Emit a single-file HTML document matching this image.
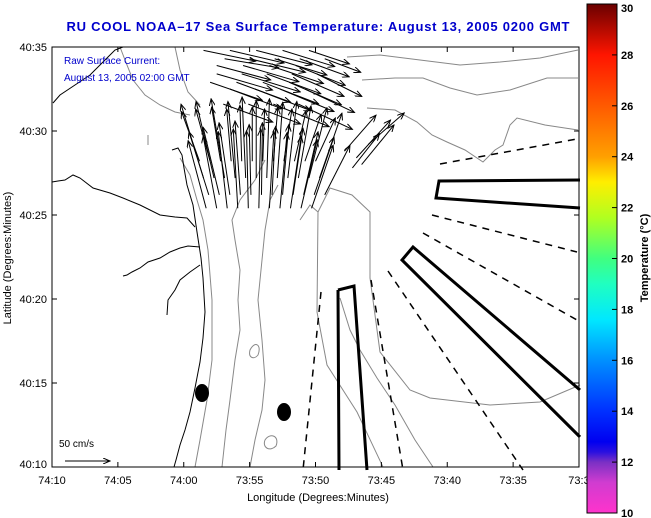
<!DOCTYPE html>
<html><head><meta charset="utf-8"><style>
html,body{margin:0;padding:0;background:#fff;}
svg{display:block;font-family:"Liberation Sans",sans-serif;}
</style></head><body>
<svg id="chart" width="651" height="518" viewBox="0 0 651 518">
<defs>
<linearGradient id="cbar" x1="0" y1="1" x2="0" y2="0">
<stop offset="0" stop-color="#ff33cc"/><stop offset="0.06" stop-color="#d03cd0"/><stop offset="0.1" stop-color="#7a30c4"/><stop offset="0.12" stop-color="#2a10e0"/><stop offset="0.14" stop-color="#0000f0"/><stop offset="0.2" stop-color="#0030ff"/><stop offset="0.3" stop-color="#0090ff"/><stop offset="0.38" stop-color="#00e8ff"/><stop offset="0.45" stop-color="#20ffc0"/><stop offset="0.5" stop-color="#40ff80"/><stop offset="0.58" stop-color="#b0ff20"/><stop offset="0.65" stop-color="#ffee00"/><stop offset="0.7" stop-color="#ffa000"/><stop offset="0.8" stop-color="#ff5a00"/><stop offset="0.9" stop-color="#ff1500"/><stop offset="1" stop-color="#6a0000"/>
</linearGradient>
<marker id="ah" markerWidth="8" markerHeight="6" refX="7" refY="3" orient="auto" markerUnits="userSpaceOnUse"><path d="M0,0 L7,3 L0,6" fill="none" stroke="#000" stroke-width="1"/></marker>
</defs>
<text x="318" y="31" text-anchor="middle" font-size="13" font-weight="bold" fill="#0000cc" textLength="503">RU COOL  NOAA–17  Sea Surface Temperature:  August 13, 2005 0200 GMT</text>
<g fill="none">
<g stroke="#888" stroke-width="1">
<path d="M120,47 L125,60 L133,80 L145,95 L160,105 L175,112 L190,115"/>
<path d="M175,47 L180,70 L188,92 L200,105"/>
<path d="M195,467 L200,440 L207,400 L212,360 L212,300 L208,250 L203,220 L197,200 L190,175 L180,158"/>
<path d="M222,467 L226,430 L230,400 L235,360 L240,330 L238,300 L240,270 L235,240 L232,220 L240,200 L255,180 L265,160"/>
<path d="M250,467 L255,440 L262,410 L265,380 L262,340 L258,300 L262,260 L265,230 L270,200 L278,185"/>
<path d="M347,57 L380,55 L420,60 L460,65 L500,62 L540,58 L578,50"/>
<path d="M362,80 L395,78 L423,78 L450,88 L477,95 L510,90 L547,78 L578,78"/>
<path d="M367,108 L395,110 L417,122 L432,135 L447,142 L465,150 L483,162 L495,150 L503,145 L510,125 L517,118 L545,125 L578,130"/>
<path d="M383,467 L357,412 L327,365 L317,312 L318,212 L330,188 L352,195 L370,212 L370,278 L380,352 L410,390 L430,398 L490,405 L540,402 L580,385"/>
<path d="M340,298 L350,330 L360,350 L377,378 L395,405 L415,440 L433,467"/>
<path d="M300,220 L310,205 L318,212"/>
<path d="M148,135 L148,145"/>
<path d="M250,350 C255,340 262,345 258,355 C254,360 248,358 250,350Z"/>
<path d="M265,440 C270,432 280,436 276,446 C270,452 262,448 265,440Z"/>
</g>
<g stroke="#000" stroke-width="1">
<path d="M53,103 L60,95 L75,85 L90,75 L107,58 L115,50 L123,47"/>
<path d="M172,150 L178,148 L182,155 L184,168 L187,185 L193,205 L197,232 L201,258 L203,278 L205,312 L203,338 L200,362 L195,388 L190,412 L185,430 L180,445 L176,460 L174,467"/>
<path d="M52,182 L58,181 L65,180 L73,175 L80,178 L93,188 L110,193 L123,198 L140,205 L160,215 L175,217 L187,218 L195,227"/>
<path d="M200,247 L188,246 L180,248 L170,252 L160,258 L148,262 L140,268 L132,272 L127,275 L123,276"/>
<path d="M200,265 L190,272 L180,280 L175,290 L168,300 L167,315"/>
</g>
</g>
<g fill="none" stroke="#000">
<path d="M338,290 L354,286 L367,470 M339,470 L338,290" stroke-width="3"/>
<path d="M580,180 L439,181 L436,198 L580,208" stroke-width="3"/>
<path d="M580,390 L413,247 L402,260 L580,437" stroke-width="3"/>
<g stroke-width="1.5" stroke-dasharray="7,6">
<path d="M440,164 L577,139"/><path d="M432,215 L577,252"/><path d="M423,233 L577,320"/>
<path d="M388,271 L523,470"/><path d="M371,280 L403,470"/><path d="M321,292 L303,470"/>
</g>
</g>
<ellipse cx="202" cy="393" rx="7" ry="9" fill="#000"/>
<ellipse cx="284" cy="412" rx="7" ry="9" fill="#000"/>
<g id="arrows"></g>
<text x="64" y="64" font-size="10" fill="#0000cc">Raw Surface Current:</text>
<text x="64" y="81" font-size="10" fill="#0000cc">August 13, 2005 02:00 GMT</text>
<g>
<text x="59" y="447" font-size="10" fill="#000">50 cm/s</text>
<line x1="65" y1="461" x2="110" y2="461" stroke="#000" marker-end="url(#ah)"/>
</g>
<rect x="52" y="47" width="527" height="420" fill="none" stroke="#000" stroke-width="1"/>
<g id="axes" font-size="11" fill="#000"></g>
<text x="318" y="501" text-anchor="middle" font-size="11">Longitude (Degrees:Minutes)</text>
<text transform="translate(11,258) rotate(-90)" text-anchor="middle" font-size="11">Latitude (Degrees:Minutes)</text>
<rect x="587" y="4" width="30" height="509" fill="url(#cbar)" stroke="#000" stroke-width="1"/>
<g id="cbticks" font-size="11" font-weight="bold"></g>
<text transform="translate(648,258) rotate(-90)" text-anchor="middle" font-size="11" font-weight="bold">Temperature (°C)</text>
</svg>
<script>
const lonTicks = ["74:10","74:05","74:00","73:55","73:50","73:45","73:40","73:35","73:3"];
const latTicks = ["40:10","40:15","40:20","40:25","40:30","40:35"];
const tempTicks = [10,12,14,16,18,20,22,24,26,28,30];
// arrow tails: lon minutes (73:xx / 74 = 60+), lat minutes past 40:00; velocities cm/s
const arrowLon = [58.5,57.7,56.9,56.1,55.3,54.5,53.7,52.9,52.1,51.3,50.5,49.7,
 58.1,57.3,56.5,55.7,54.9,54.1,53.3,52.5,51.7,50.9,50.1,49.3,
 58.8,58.0,57.2,56.4,55.6,54.8,54.0,53.2,52.4,51.6,50.8,50.0,
 58.3,57.5,56.7,55.9,55.1,54.3,53.5,52.7,51.9,51.1,50.3,
 56.9,55.0,53.1,51.2,49.3,57.5,55.6,53.7,51.8,49.9,56.5,54.6,52.7,50.8,57.0,55.1,53.2,51.3,
 58.5,56.5,54.5,52.5,50.5,57.5,55.5,53.5,51.5,58.0,56.0,54.0,52.0,
 47.8,46.9,46.0,47.2,46.5];
const arrowLat = [27.2,27.2,27.2,27.2,27.2,27.2,27.2,27.2,27.2,27.2,27.2,27.2,
 26.2,26.2,26.2,26.2,26.2,26.2,26.2,26.2,26.2,26.2,26.2,26.2,
 28.2,28.2,28.2,28.2,28.2,28.2,28.2,28.2,28.2,28.2,28.2,28.2,
 25.4,25.4,25.4,25.4,25.4,25.4,25.4,25.4,25.4,25.4,25.4,
 34.3,34.3,34.3,34.3,34.3,33.4,33.4,33.4,33.4,33.4,32.5,32.5,32.5,32.5,31.6,31.6,31.6,31.6,
 34.8,34.8,34.8,34.8,34.8,33.9,33.9,33.9,33.9,32.9,32.9,32.9,32.9,
 28.8,28.4,29.2,27.8,28.0];
const arrowU = [-25,-20,-15,-8,-4,0,3,6,10,14,20,25,
 -22,-18,-12,-6,-2,1,4,7,11,16,22,28,
 -20,-16,-10,-5,-2,0,2,5,9,13,18,22,
 -20,-15,-10,-5,-2,2,5,8,12,18,24,
 60,62,58,55,40,62,65,60,58,50,58,62,60,55,55,58,62,60,
 58,60,62,58,45,60,62,60,55,58,60,62,58,
 35,38,40,30,36];
const arrowV = [82,85,88,85,90,86,88,84,85,80,78,72,
 70,75,80,82,78,80,76,78,74,70,64,55,
 55,58,60,58,62,60,58,60,58,56,52,48,
 75,80,85,88,86,88,85,84,80,76,70,
 -10,-15,-18,-20,-15,-18,-20,-22,-25,-25,-22,-24,-25,-26,-20,-22,-25,-28,
 -12,-14,-16,-18,-15,-16,-18,-20,-22,-20,-22,-24,-25,
 40,42,35,38,44];
const NS="http://www.w3.org/2000/svg";
const xOf = m => 52 + (70 - m) * 527/40;
const yOf = n => 467 - (n - 10) * 420/25;
const pxPerCm = 0.9;
const g = document.getElementById('arrows');
for (let i=0;i<arrowLon.length;i++){
  const x1=xOf(arrowLon[i]), y1=yOf(arrowLat[i]);
  const l=document.createElementNS(NS,'line');
  l.setAttribute('x1',x1);l.setAttribute('y1',y1);
  l.setAttribute('x2',x1+arrowU[i]*pxPerCm);l.setAttribute('y2',y1-arrowV[i]*pxPerCm);
  l.setAttribute('stroke','#000');l.setAttribute('stroke-width','1');
  l.setAttribute('marker-end','url(#ah)');
  
  
  g.appendChild(l);
}
const ax=document.getElementById('axes');
lonTicks.forEach((t,i)=>{
  const x=52+i*527/8;
  const tx=document.createElementNS(NS,'text');
  tx.setAttribute('x',x);tx.setAttribute('y',484);tx.setAttribute('text-anchor','middle');tx.textContent=t;
  
  
  ax.appendChild(tx);
  [[467,462],[47,52]].forEach(p=>{const l=document.createElementNS(NS,'line');l.setAttribute('x1',x);l.setAttribute('x2',x);l.setAttribute('y1',p[0]);l.setAttribute('y2',p[1]);l.setAttribute('stroke','#000');
  
  
  ax.appendChild(l);});
});
latTicks.forEach((t,i)=>{
  const y=467-i*84;
  const tx=document.createElementNS(NS,'text');
  tx.setAttribute('x',47);tx.setAttribute('y',y+(i===0?1:4));tx.setAttribute('text-anchor','end');tx.textContent=t;
  
  
  ax.appendChild(tx);
  [[52,57],[579,574]].forEach(p=>{const l=document.createElementNS(NS,'line');l.setAttribute('y1',y);l.setAttribute('y2',y);l.setAttribute('x1',p[0]);l.setAttribute('x2',p[1]);l.setAttribute('stroke','#000');
  
  
  ax.appendChild(l);});
});
const cb=document.getElementById('cbticks');
tempTicks.forEach((t,i)=>{
  const y=513-i*50.9;
  const tx=document.createElementNS(NS,'text');
  tx.setAttribute('x',621);tx.setAttribute('y',Math.min(Math.max(y+4,12),517));tx.textContent=t;
  
  
  cb.appendChild(tx);
  const l=document.createElementNS(NS,'line');l.setAttribute('x1',612);l.setAttribute('x2',617);l.setAttribute('y1',y);l.setAttribute('y2',y);l.setAttribute('stroke','#000');
  
  
  cb.appendChild(l);
});
</script>
</body></html>
